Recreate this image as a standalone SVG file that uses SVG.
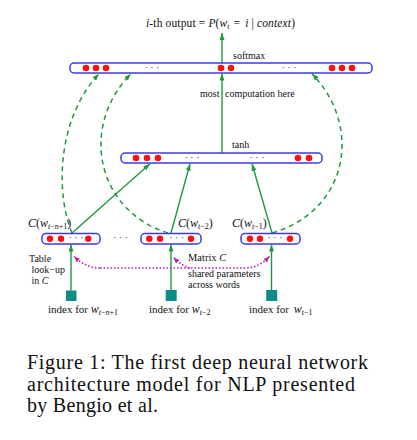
<svg xmlns="http://www.w3.org/2000/svg" width="417" height="440" viewBox="0 0 417 440">
<defs>
<style>
.bar{fill:#fff;stroke:#3a3af0;stroke-width:1.5}
.dot{fill:#ff1010}
.t{font-family:"Liberation Serif",serif;font-size:10px;fill:#111}
.it{font-style:italic}
.ell{font-family:"Liberation Serif",serif;font-size:10px;fill:#333;text-anchor:middle}
.g{fill:none;stroke:#1e9a3c;stroke-width:1.4}
.gd{fill:none;stroke:#1e9a3c;stroke-width:1.5;stroke-dasharray:5 4}
.m{fill:none;stroke:#b626b6;stroke-width:1.6;stroke-dasharray:1.6 1.9}
.sq{fill:#0b8e8a}
.cap{font-family:"Liberation Serif",serif;font-size:20px;fill:#111}
</style>
<marker id="ag" markerUnits="userSpaceOnUse" markerWidth="8" markerHeight="6" refX="7" refY="2.5" orient="auto"><path d="M0,0 L7,2.5 L0,5 z" fill="#1e9a3c"/></marker>
<marker id="am" markerUnits="userSpaceOnUse" markerWidth="8" markerHeight="6" refX="6" refY="2.5" orient="auto"><path d="M0,0 L6,2.5 L0,5 z" fill="#b626b6"/></marker>
</defs>
<rect width="417" height="440" fill="#fff"/>

<g id="connectors">
<path class="g" d="M222,153 L222,73.5" marker-end="url(#ag)"/>
<path class="g" d="M222,63 L222,33" marker-end="url(#ag)"/>
<path class="g" d="M72,233 L150,163.8" marker-end="url(#ag)"/>
<path class="g" d="M171,233 L190,163.8" marker-end="url(#ag)"/>
<path class="g" d="M272,233 L252,163.8" marker-end="url(#ag)"/>
<path class="g" d="M71,290.5 L71,244.5" marker-end="url(#ag)"/>
<path class="g" d="M171,290 L171,244.5" marker-end="url(#ag)"/>
<path class="g" d="M271.5,290 L271.5,244.5" marker-end="url(#ag)"/>
<path class="gd" d="M72,233 C56,195 56,120 99,73.8" marker-end="url(#ag)"/>
<path class="gd" d="M168,233 C95,210 80,125 131,73.8" marker-end="url(#ag)"/>
<path class="gd" d="M272,233 C350,210 362,125 312,73.8" marker-end="url(#ag)"/>
<path class="m" d="M100,268 C88,268 80,262 74,256.5" marker-end="url(#am)"/>
<path class="m" d="M100,268 L245,268 C257,268 264,262 269.5,256.5" marker-end="url(#am)"/>
<path class="m" d="M190,268 C183,266 178,262 173.5,257.5" marker-end="url(#am)"/>
</g>

<g id="softmax">
<rect class="bar" x="70" y="63" width="302" height="10" rx="4"/>
<circle class="dot" cx="86" cy="68" r="3.3"/><circle class="dot" cx="96" cy="68" r="3.3"/><circle class="dot" cx="106" cy="68" r="3.3"/>
<circle class="dot" cx="221" cy="68" r="3.3"/><circle class="dot" cx="231" cy="68" r="3.3"/>
<circle class="dot" cx="332" cy="68" r="3.3"/><circle class="dot" cx="342" cy="68" r="3.3"/><circle class="dot" cx="352" cy="68" r="3.3"/>
<text class="ell" x="152" y="70.5">· · ·</text><text class="ell" x="289" y="70.5">· · ·</text>
<text class="t" x="233" y="59">softmax</text>
</g>

<g id="output">
<text class="t" x="146" y="27" style="font-size:11.5px" textLength="149" lengthAdjust="spacing"><tspan class="it">i</tspan>-th output = <tspan class="it">P</tspan>(<tspan class="it">w</tspan><tspan class="it" font-size="7.5" dy="2">t</tspan><tspan dy="-2" dx="4">=</tspan><tspan class="it" dx="2"> i</tspan> | <tspan class="it">context</tspan>)</text>
</g>

<g id="note">
<text class="t" x="200" y="97">most <tspan dx="3">computation here</tspan></text>
</g>

<g id="tanh">
<rect class="bar" x="121" y="153" width="201" height="10" rx="4"/>
<circle class="dot" cx="136" cy="158" r="3.3"/><circle class="dot" cx="147" cy="158" r="3.3"/><circle class="dot" cx="158" cy="158" r="3.3"/>
<circle class="dot" cx="298" cy="158" r="3.3"/><circle class="dot" cx="309" cy="158" r="3.3"/>
<text class="ell" x="192" y="160.5">· · ·</text><text class="ell" x="257" y="160.5">· · ·</text>
<text class="t" x="232" y="148">tanh</text>
</g>

<g id="c1">
<rect class="bar" x="42" y="233.5" width="58" height="10.5" rx="4"/>
<circle class="dot" cx="50" cy="238.8" r="3.2"/><circle class="dot" cx="61" cy="238.8" r="3.2"/><circle class="dot" cx="88.3" cy="238.8" r="3.2"/>
<text class="ell" x="76" y="241.3">· · ·</text>
<text class="t" x="28" y="227" style="font-size:12px"><tspan class="it">C</tspan>(<tspan class="it">w</tspan><tspan font-size="8" dy="2"><tspan class="it">t</tspan>−<tspan class="it">n</tspan>+1</tspan><tspan dy="-2">)</tspan></text>
</g>

<g id="c2">
<rect class="bar" x="141" y="233.5" width="60" height="10.5" rx="4"/>
<circle class="dot" cx="149.3" cy="238.8" r="3.2"/><circle class="dot" cx="160" cy="238.8" r="3.2"/><circle class="dot" cx="191" cy="238.8" r="3.2"/>
<text class="ell" x="176.7" y="241.3">· · ·</text>
<text class="t" x="178" y="227" style="font-size:12px"><tspan class="it">C</tspan>(<tspan class="it">w</tspan><tspan font-size="8" dy="2"><tspan class="it">t</tspan>−2</tspan><tspan dy="-2">)</tspan></text>
</g>

<g id="c3">
<rect class="bar" x="241" y="233.5" width="59" height="10.5" rx="4"/>
<circle class="dot" cx="250" cy="238.8" r="3.2"/><circle class="dot" cx="260" cy="238.8" r="3.2"/><circle class="dot" cx="290" cy="238.8" r="3.2"/>
<text class="ell" x="275" y="241.3">· · ·</text>
<text class="t" x="232" y="227" style="font-size:12px"><tspan class="it">C</tspan>(<tspan class="it">w</tspan><tspan font-size="8" dy="2"><tspan class="it">t</tspan>−1</tspan><tspan dy="-2">)</tspan></text>
</g>

<g id="gap">
<text class="ell" x="120.5" y="241.3">· · ·</text>
</g>

<g id="lookup">
<text class="t" x="29" y="262">Table</text>
<text class="t" x="31.5" y="273">look−up</text>
<text class="t" x="31.5" y="283.5">in <tspan class="it">C</tspan></text>
</g>

<g id="matrix">
<text class="t" x="188" y="261" style="font-size:10.5px">Matrix <tspan class="it">C</tspan></text>
<text class="t" x="188" y="277">shared parameters</text>
<text class="t" x="188" y="287.5">across words</text>
</g>

<g id="i1">
<rect class="sq" x="66" y="290.5" width="10.5" height="10.5"/>
<text class="t" x="48" y="313" style="font-size:11px">index for <tspan class="it" font-size="12">w</tspan><tspan font-size="8" dy="2"><tspan class="it">t</tspan>−<tspan class="it">n</tspan>+1</tspan></text>
</g>
<g id="i2">
<rect class="sq" x="165.7" y="290" width="11" height="11"/>
<text class="t" x="149" y="313" style="font-size:11px">index for <tspan class="it" font-size="12">w</tspan><tspan font-size="8" dy="2"><tspan class="it">t</tspan>−2</tspan></text>
</g>
<g id="i3">
<rect class="sq" x="266.2" y="290" width="11" height="11"/>
<text class="t" x="249" y="313" style="font-size:11px">index for <tspan class="it" font-size="12" dx="2">w</tspan><tspan font-size="8" dy="2"><tspan class="it">t</tspan>−1</tspan></text>
</g>

<g id="caption">
<text class="cap" x="27" y="369" textLength="341" lengthAdjust="spacing">Figure 1: The first deep neural network</text>
<text class="cap" x="27" y="390.5" textLength="328" lengthAdjust="spacing">architecture model for NLP presented</text>
<text class="cap" x="27" y="412" textLength="131" lengthAdjust="spacing">by Bengio et al.</text>
</g>
</svg>
